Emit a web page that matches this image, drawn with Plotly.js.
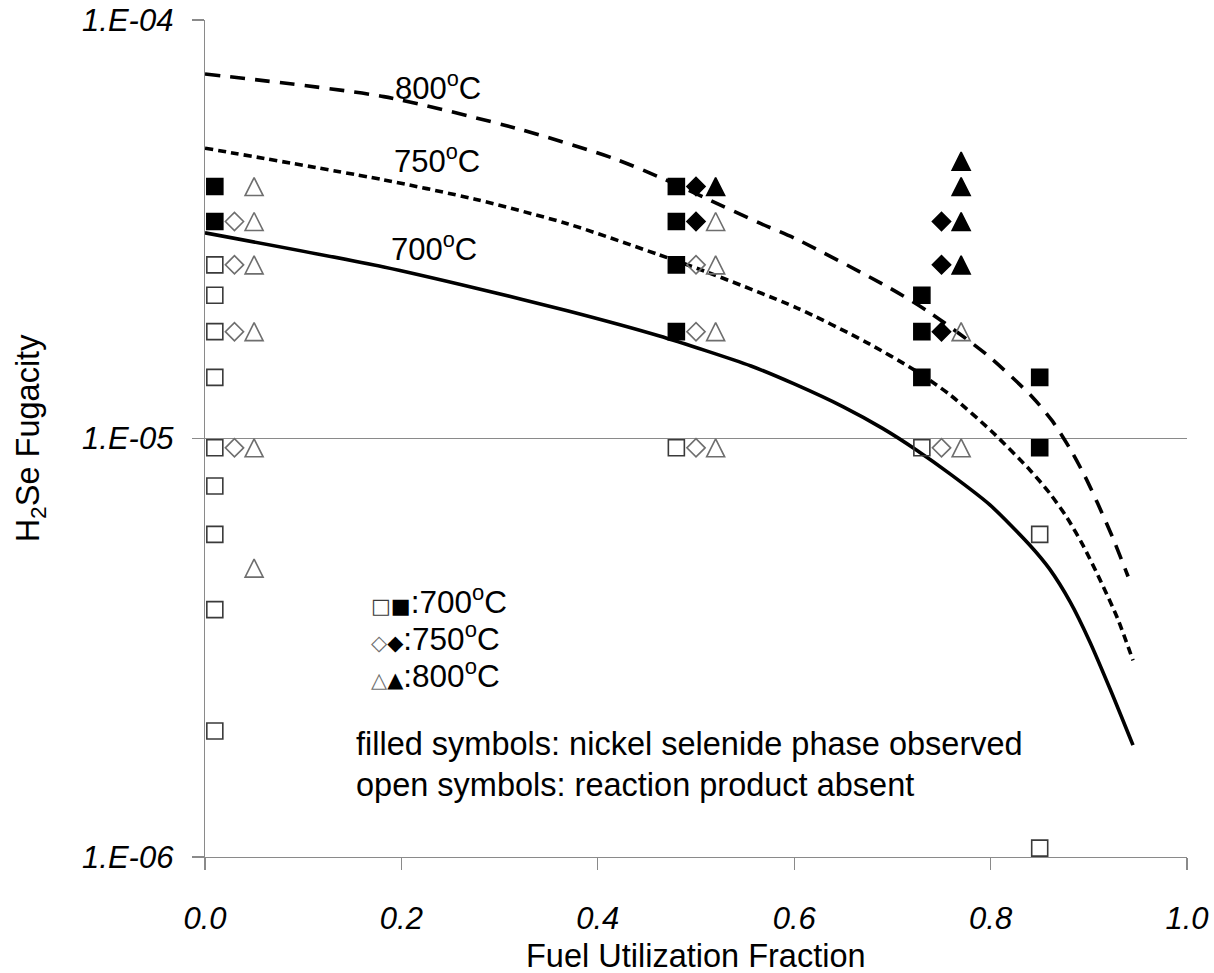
<!DOCTYPE html>
<html>
<head>
<meta charset="utf-8">
<script src="https://cdn.plot.ly/plotly-3.0.1.min.js"></script>
<style>
  html, body { margin: 0; padding: 0; background: #fff; }
  #chart { width: 1214px; height: 973px; }
</style>
</head>
<body>
<div id="chart"></div>
<script>
// ---------- data ----------
// Model curves: H2Se fugacity vs fuel utilization fraction
const curve800X = [0, 0.182, 0.322, 0.415, 0.462, 0.509, 0.565, 0.603, 0.697, 0.738, 0.797, 0.842, 0.863, 0.881, 0.896, 0.909, 0.924, 0.940];
const curve800Y = [7.43e-5, 6.56e-5, 5.47e-5, 4.68e-5, 4.22e-5, 3.76e-5, 3.27e-5, 2.99e-5, 2.29e-5, 2.00e-5, 1.58e-5, 1.26e-5, 1.10e-5, 9.44e-6, 8.13e-6, 7.00e-6, 5.82e-6, 4.68e-6];

const curve750X = [0, 0.182, 0.275, 0.369, 0.462, 0.509, 0.603, 0.673, 0.724, 0.759, 0.802, 0.840, 0.860, 0.878, 0.894, 0.911, 0.929, 0.945];
const curve750Y = [4.94e-5, 4.15e-5, 3.73e-5, 3.26e-5, 2.75e-5, 2.51e-5, 2.05e-5, 1.70e-5, 1.45e-5, 1.27e-5, 1.035e-5, 8.41e-6, 7.41e-6, 6.46e-6, 5.56e-6, 4.62e-6, 3.73e-6, 2.95e-6];

const curve700X = [0, 0.182, 0.275, 0.369, 0.462, 0.556, 0.600, 0.650, 0.690, 0.724, 0.759, 0.799, 0.840, 0.860, 0.881, 0.901, 0.922, 0.945];
const curve700Y = [3.10e-5, 2.57e-5, 2.29e-5, 2.02e-5, 1.76e-5, 1.49e-5, 1.35e-5, 1.19e-5, 1.057e-5, 9.40e-6, 8.22e-6, 6.95e-6, 5.56e-6, 4.88e-6, 4.07e-6, 3.27e-6, 2.51e-6, 1.85e-6];

// Experimental points: 700 C (squares)
const open700X   = [0.01, 0.01, 0.01, 0.01, 0.01, 0.01, 0.01, 0.01, 0.01, 0.48, 0.73, 0.85, 0.85];
const open700Y   = [2.6e-5, 2.2e-5, 1.8e-5, 1.4e-5, 9.5e-6, 7.7e-6, 5.9e-6, 3.9e-6, 2.0e-6, 9.5e-6, 9.5e-6, 5.9e-6, 1.05e-6];
const filled700X = [0.01, 0.01, 0.48, 0.48, 0.48, 0.48, 0.73, 0.73, 0.73, 0.85, 0.85];
const filled700Y = [4.0e-5, 3.3e-5, 4.0e-5, 3.3e-5, 2.6e-5, 1.8e-5, 2.2e-5, 1.8e-5, 1.4e-5, 1.4e-5, 9.5e-6];

// 750 C (diamonds)
const open750X   = [0.03, 0.03, 0.03, 0.03, 0.50, 0.50, 0.50, 0.75];
const open750Y   = [3.3e-5, 2.6e-5, 1.8e-5, 9.5e-6, 2.6e-5, 1.8e-5, 9.5e-6, 9.5e-6];
const filled750X = [0.50, 0.50, 0.75, 0.75, 0.75];
const filled750Y = [4.0e-5, 3.3e-5, 3.3e-5, 2.6e-5, 1.8e-5];

// 800 C (triangles)
const open800X   = [0.05, 0.05, 0.05, 0.05, 0.05, 0.05, 0.52, 0.52, 0.52, 0.52, 0.77, 0.77];
const open800Y   = [4.0e-5, 3.3e-5, 2.6e-5, 1.8e-5, 9.5e-6, 4.9e-6, 3.3e-5, 2.6e-5, 1.8e-5, 9.5e-6, 1.8e-5, 9.5e-6];
const filled800X = [0.52, 0.77, 0.77, 0.77, 0.77];
const filled800Y = [4.0e-5, 4.6e-5, 4.0e-5, 3.3e-5, 2.6e-5];

const xTickVals = [0, 0.2, 0.4, 0.6, 0.8, 1.0];
const xTickText = ['0.0', '0.2', '0.4', '0.6', '0.8', '1.0'];
const yTickVals = [1e-6, 1e-5, 1e-4];
const yTickText = ['1.E-06', '1.E-05', '1.E-04'];

// ---------- styling ----------
const FONT = 'Liberation Sans, Arial, sans-serif';
const AXIS_GREY = '#8a8a8a';
const SQ_OPEN = '#3a3a3a';
const OPEN_GREY = '#6e6e6e';

function curve(x, y, dash) {
  return { x: x, y: y, type: 'scatter', mode: 'lines', hoverinfo: 'skip',
    line: { color: '#000', width: 3.6, dash: dash, shape: 'spline', smoothing: 0.7 } };
}
function pts(x, y, symbol, size, color, lineColor, extra) {
  const m = Object.assign({ symbol: symbol, size: size, color: color,
    line: { color: lineColor, width: 1.6 } }, extra || {});
  return { x: x, y: y, type: 'scatter', mode: 'markers', marker: m };
}
// arrow-down rotated 180deg with standoff = half size gives a centred, Excel-like triangle
const TRI = 18;
const triExtra = { angle: 180, standoff: TRI / 2 };

const data = [
  curve(curve700X, curve700Y, 'solid'),
  curve(curve750X, curve750Y, '8px,5px'),
  curve(curve800X, curve800Y, '15px,10px'),
  pts(open700X, open700Y, 'square-open', 16, SQ_OPEN, SQ_OPEN),
  pts(filled700X, filled700Y, 'square', 16, '#000', '#000'),
  pts(open750X, open750Y, 'diamond-open', 14, OPEN_GREY, OPEN_GREY),
  pts(filled750X, filled750Y, 'diamond', 14, '#000', '#000'),
  pts(open800X, open800Y, 'arrow-down-open', TRI, OPEN_GREY, OPEN_GREY, triExtra),
  pts(filled800X, filled800Y, 'arrow-down', TRI, '#000', '#000', triExtra)
];

// plot area: x 205..1187, y 20..857
function px2x(px) { return (px - 205) / 982; }
function py2y(py) { return (857 - py) / 837; }

function ann(text, px, py, anchor, size) {
  return { text: text, xref: 'paper', yref: 'paper', x: px2x(px), y: py2y(py),
    xanchor: anchor || 'center', yanchor: 'middle', showarrow: false,
    font: { family: FONT, size: size || 32.5, color: '#000' } };
}

const SYM = 'font-family:DejaVu Sans;font-size:21px';
const annotations = [
  ann('800<sup>o</sup>C', 438, 86, 'center', 31),
  ann('750<sup>o</sup>C', 437, 159, 'center', 31),
  ann('700<sup>o</sup>C', 434, 247, 'center', 31),
  ann('<span style="' + SYM + '"><span style="color:#3a3a3a">□</span>■</span>:700<sup>o</sup>C', 369, 600, 'left', 31.5),
  ann('<span style="' + SYM + '"><span style="color:#6e6e6e">◇</span>◆</span>:750<sup>o</sup>C', 369, 637, 'left', 31.5),
  ann('<span style="' + SYM + '"><span style="color:#6e6e6e">△</span>▲</span>:800<sup>o</sup>C', 369, 674, 'left', 31.5),
  ann('filled symbols: nickel selenide phase observed', 354, 744, 'left'),
  ann('open symbols: reaction product absent', 354, 785, 'left'),
  // x-axis title
  ann('Fuel Utilization Fraction', 696, 956, 'center', 32.5)
];

const tickFont = { family: FONT, size: 31, color: '#000', style: 'italic' };

const layout = {
  width: 1214, height: 973,
  margin: { l: 205, r: 27, t: 20, b: 116, pad: 0 },
  paper_bgcolor: '#fff', plot_bgcolor: '#fff',
  showlegend: false,
  xaxis: {
    range: [0, 1], tickvals: xTickVals, ticktext: xTickText,
    showgrid: false, zeroline: false,
    showline: true, linecolor: AXIS_GREY, linewidth: 1.4,
    ticks: 'outside', ticklen: 12, tickcolor: AXIS_GREY, tickwidth: 1.4,
    tickfont: tickFont, ticklabelstandoff: 21,
    automargin: false
  },
  yaxis: {
    type: 'log', range: [-6, -4], tickvals: yTickVals, ticktext: yTickText,
    showgrid: true, gridcolor: AXIS_GREY, gridwidth: 1.4, zeroline: false,
    showline: true, linecolor: AXIS_GREY, linewidth: 1.4,
    ticks: 'outside', ticklen: 12, tickcolor: AXIS_GREY, tickwidth: 1.4,
    tickfont: tickFont, ticklabelstandoff: 12,
    automargin: false,
    title: { text: 'H<sub>2</sub>Se Fugacity', font: { family: FONT, size: 32.5, color: '#000' }, standoff: 32 }
  },
  annotations: annotations
};

Plotly.newPlot('chart', data, layout, { staticPlot: true, displayModeBar: false });
</script>
</body>
</html>
